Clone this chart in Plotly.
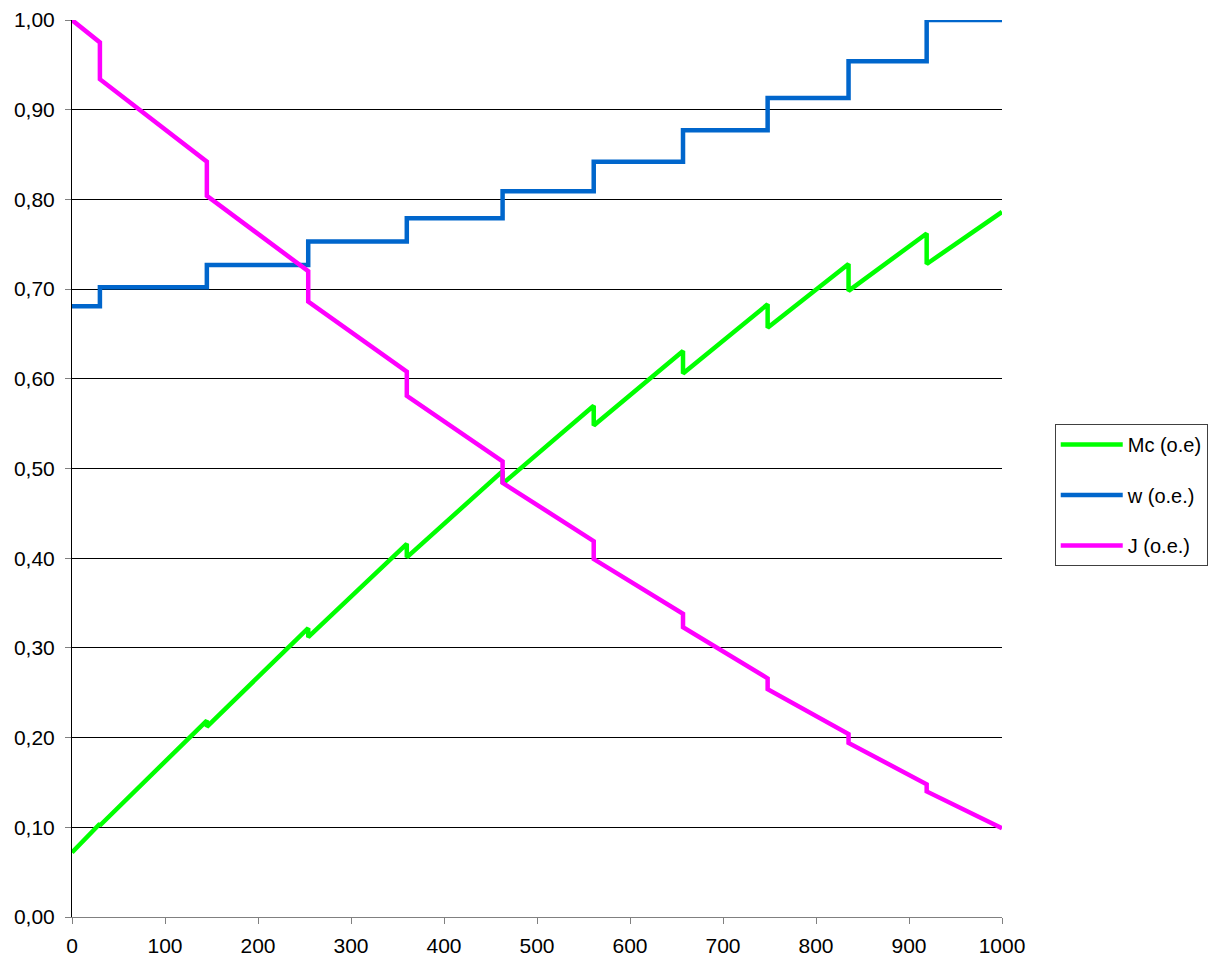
import plotly.graph_objects as go

# Switching points along the x axis (each appears twice: value before / after the step)
step_x = [30, 145, 254, 360, 463, 561, 657, 748, 835, 919]
x_start, x_end = 0, 1000

# Mc (o.e): value just before and just after each step
mc_start = 0.072
mc_before = [0.104, 0.219, 0.322, 0.416, 0.497, 0.570, 0.631, 0.683, 0.728, 0.762]
mc_after = [0.102, 0.212, 0.312, 0.401, 0.483, 0.548, 0.606, 0.657, 0.698, 0.728]
mc_end = 0.786

# w (o.e.): constant level on each interval
w_levels = [0.681, 0.702, 0.727, 0.753, 0.779, 0.809, 0.842, 0.877, 0.913, 0.954, 1.000]

# J (o.e.): value just before and just after each step
j_start = 1.000
j_before = [0.975, 0.842, 0.720, 0.608, 0.508, 0.419, 0.338, 0.266, 0.204, 0.148]
j_after = [0.934, 0.804, 0.686, 0.581, 0.484, 0.399, 0.323, 0.254, 0.194, 0.140]
j_end = 0.099

y_ticks = [0.0, 0.1, 0.2, 0.3, 0.4, 0.5, 0.6, 0.7, 0.8, 0.9, 1.0]
x_ticks = [0, 100, 200, 300, 400, 500, 600, 700, 800, 900, 1000]


def sawtooth(start, before, after, end):
    xs, ys = [x_start], [start]
    for sx, b, a in zip(step_x, before, after):
        xs += [sx, sx]
        ys += [b, a]
    xs.append(x_end)
    ys.append(end)
    return xs, ys


def staircase(levels):
    xs, ys = [x_start], [levels[0]]
    for sx, lo, hi in zip(step_x, levels[:-1], levels[1:]):
        xs += [sx, sx]
        ys += [lo, hi]
    xs.append(x_end)
    ys.append(levels[-1])
    return xs, ys


mc_x, mc_y = sawtooth(mc_start, mc_before, mc_after, mc_end)
w_x, w_y = staircase(w_levels)
j_x, j_y = sawtooth(j_start, j_before, j_after, j_end)

font_family = "Liberation Sans, Arial, sans-serif"

fig = go.Figure()
series = [
    ("Mc (o.e)", mc_x, mc_y, "#00FF00"),
    ("w (o.e.)", w_x, w_y, "#0066CC"),
    ("J (o.e.)", j_x, j_y, "#FF00FF"),
]
for i, (name, xs, ys, color) in enumerate(series):
    fig.add_trace(go.Scatter(
        x=xs, y=ys, mode="lines", name=name,
        line=dict(color=color, width=4.5),
        legendgroup=f"g{i}",
    ))

fig.update_layout(
    width=1217, height=958,
    margin=dict(l=72, r=215, t=20, b=41, autoexpand=False),
    paper_bgcolor="white", plot_bgcolor="white",
    separators=", ",
    font=dict(family=font_family, size=21, color="black"),
    showlegend=True,
    legend=dict(
        x=1.0567, xanchor="left", y=0.5497, yanchor="top",
        bordercolor="#404040", borderwidth=1,
        font=dict(family=font_family, size=20, color="black"),
        traceorder="grouped",
        tracegroupgap=21.5,
        entrywidth=152,
        itemwidth=62,
    ),
    xaxis=dict(
        range=[x_start, x_end], tickvals=x_ticks, tickformat="d",
        showgrid=False, zeroline=False, automargin=False,
        showline=True, linecolor="#808080", linewidth=1,
        ticks="outside", ticklen=6, tickcolor="#808080",
        ticklabelstandoff=4,
    ),
    yaxis=dict(
        range=[0, 1.0], tickvals=y_ticks, tickformat=".2f",
        showgrid=True, gridcolor="black", gridwidth=1,
        zeroline=False, automargin=False,
        showline=True, linecolor="black", linewidth=1,
        ticks="outside", ticklen=6, tickcolor="#808080",
        ticklabelstandoff=6,
    ),
)

fig.write_html("out.html")
